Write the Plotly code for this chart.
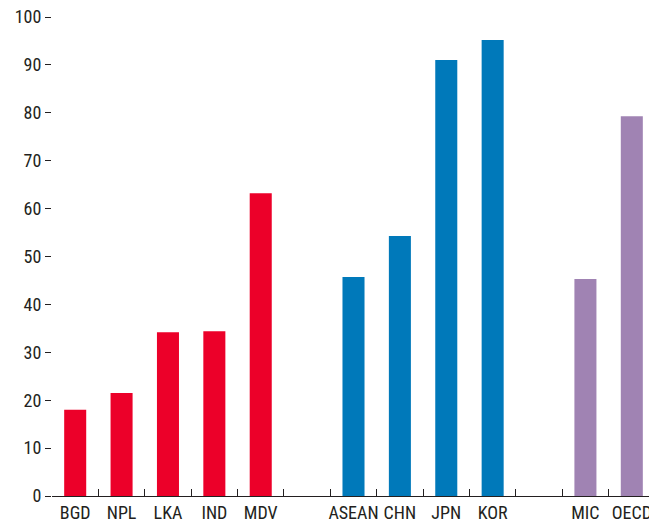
import plotly.graph_objects as go

categories = ["BGD", "NPL", "LKA", "IND", "MDV", " ", "ASEAN", "CHN", "JPN", "KOR", "  ", "MIC", "OECD"]
values = [18.0, 21.5, 34.2, 34.4, 63.2, None, 45.7, 54.3, 91.0, 95.2, None, 45.3, 79.3]
groups = ["SA", "SA", "SA", "SA", "SA", None, "EA", "EA", "EA", "EA", None, "CMP", "CMP"]
y_ticks = [0, 10, 20, 30, 40, 50, 60, 70, 80, 90, 100]

group_colors = {"SA": "#EC0029", "EA": "#0079BA", "CMP": "#A083B3"}
colors = [group_colors.get(g, "rgba(0,0,0,0)") for g in groups]

font_family = "Liberation Sans Narrow, Arial Narrow, Roboto Condensed, Liberation Sans, sans-serif"

fig = go.Figure()
fig.add_trace(go.Bar(x=categories, y=values, marker=dict(color=colors, line=dict(width=0)),
                     hoverinfo="x+y", showlegend=False))

fig.update_layout(
    width=649, height=517,
    margin=dict(l=44, r=2, t=9, b=29),
    paper_bgcolor="white", plot_bgcolor="white",
    bargap=0.525,
    font=dict(family=font_family, size=18, color="#231f20"),
    xaxis=dict(
        type="category", categoryorder="array", categoryarray=categories,
        range=[-0.5, len(categories) - 0.5],
        showline=True, linecolor="#231f20", linewidth=1,
        ticks="inside", tickson="boundaries", ticklen=7, tickcolor="#231f20", tickwidth=1,
        showgrid=False, zeroline=False, tickangle=0, automargin=False,
        tickfont=dict(family=font_family, size=18, color="#231f20"),
    ),
    yaxis=dict(
        range=[0, 100], tickvals=y_ticks,
        ticks="outside", ticklen=6, tickcolor="#231f20", tickwidth=1, mirror="ticks",
        showline=False, showgrid=False, zeroline=False, automargin=False,
        ticklabeloverflow="allow",
        tickfont=dict(family=font_family, size=18, color="#231f20"),
    ),
)

fig.write_html("out.html")
